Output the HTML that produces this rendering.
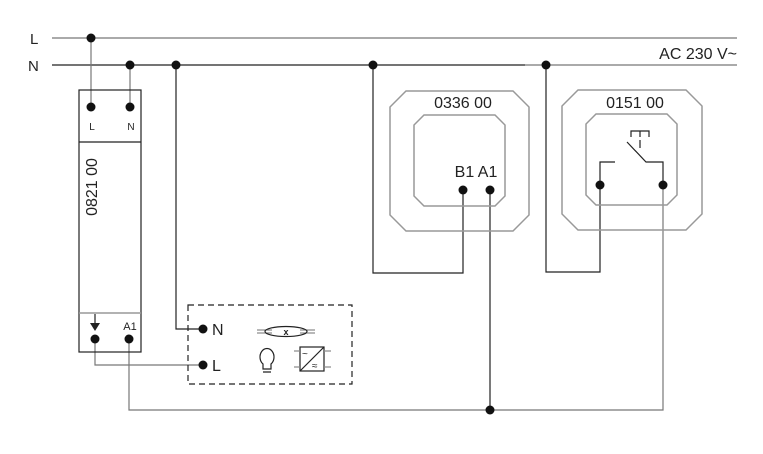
<!DOCTYPE html>
<html><head><style>html,body{margin:0;padding:0;background:#fff}svg{display:block}text{font-family:"Liberation Sans",sans-serif;fill:#222}</style></head>
<body>
<svg width="763" height="454" viewBox="0 0 763 454" xmlns="http://www.w3.org/2000/svg">
<g fill="none" stroke-width="1.2">
<line x1="52" y1="38" x2="737" y2="38" stroke="#777"/>
<line x1="52" y1="65" x2="525" y2="65" stroke="#222"/>
<line x1="525" y1="65" x2="737" y2="65" stroke="#777"/>
<polyline points="91,38 91,107" stroke="#777"/>
<polyline points="130,65 130,107" stroke="#777"/>
<polyline points="176,65 176,329 203,329" stroke="#222"/>
<polyline points="373,65 373,273 463,273 463,190" stroke="#222"/>
<polyline points="546,65 546,272 600,272 600,185" stroke="#222"/>
<polyline points="490,190 490,410" stroke="#222"/>
<polyline points="663,185 663,410 129,410 129,339" stroke="#777"/>
<polyline points="95,339 95,365 203,365" stroke="#777"/>
<rect x="79" y="90" width="62" height="262" stroke="#222"/>
<line x1="79" y1="142" x2="141" y2="142" stroke="#222"/>
<line x1="79" y1="313" x2="141" y2="313" stroke="#999" stroke-width="1.5"/>
<line x1="95" y1="314" x2="95" y2="324" stroke="#222"/>
<rect x="188" y="305" width="164" height="79" stroke="#222" stroke-dasharray="6,4"/>
<polygon points="406,91 513,91 529,107 529,215 513,231 406,231 390,215 390,107" stroke="#999" stroke-width="1.5"/>
<polygon points="424,115 495,115 505,125 505,196 495,206 424,206 414,196 414,125" stroke="#999" stroke-width="1.5"/>
<polygon points="578,90 686,90 702,106 702,214 686,230 578,230 562,214 562,106" stroke="#999" stroke-width="1.5"/>
<polygon points="596,114 667,114 677,124 677,195 667,205 596,205 586,195 586,124" stroke="#999" stroke-width="1.5"/>
<polyline points="600,185 600,162 615,162" stroke="#222"/>
<polyline points="663,185 663,162 646,162 627,142" stroke="#222"/>
<polyline points="631,137 631,131 649,131 649,137" stroke="#222"/>
<line x1="640" y1="131" x2="640" y2="137" stroke="#222"/>
<line x1="640" y1="140" x2="640" y2="148" stroke="#222"/>
<g stroke="#888"><line x1="257" y1="330" x2="272" y2="330"/><line x1="257" y1="333" x2="272" y2="333"/><line x1="300" y1="330" x2="315" y2="330"/><line x1="300" y1="333" x2="315" y2="333"/></g>
<ellipse cx="286" cy="331.5" rx="21" ry="5" stroke="#222"/>
<path d="M263,364 a7,8.5 0 1 1 8,0 l0,5 h-8 z M263,372 h8" stroke="#222"/>
<rect x="300" y="347" width="24" height="24" stroke="#222"/>
<line x1="300" y1="371" x2="324" y2="347" stroke="#222"/>
<g stroke="#888"><line x1="294" y1="351" x2="300" y2="351"/><line x1="294" y1="367" x2="300" y2="367"/><line x1="324" y1="351" x2="331" y2="351"/><line x1="324" y1="367" x2="331" y2="367"/></g>
</g>
<polygon points="90,323 100,323 95,331" fill="#222"/>
<g fill="#111">
<circle cx="91" cy="38" r="4.5"/><circle cx="130" cy="65" r="4.5"/><circle cx="176" cy="65" r="4.5"/><circle cx="373" cy="65" r="4.5"/><circle cx="546" cy="65" r="4.5"/>
<circle cx="91" cy="107" r="4.5"/><circle cx="130" cy="107" r="4.5"/><circle cx="95" cy="339" r="4.5"/><circle cx="129" cy="339" r="4.5"/>
<circle cx="203" cy="329" r="4.5"/><circle cx="203" cy="365" r="4.5"/>
<circle cx="463" cy="190" r="4.5"/><circle cx="490" cy="190" r="4.5"/><circle cx="600" cy="185" r="4.5"/><circle cx="663" cy="185" r="4.5"/><circle cx="490" cy="410" r="4.5"/>
</g>
<text x="30" y="44" font-size="15">L</text>
<text x="28" y="71" font-size="15">N</text>
<text x="737" y="59" font-size="16" text-anchor="end">AC 230 V~</text>
<text x="92" y="130" font-size="10" text-anchor="middle">L</text>
<text x="131" y="130" font-size="10" text-anchor="middle">N</text>
<text x="130" y="330" font-size="11" text-anchor="middle">A1</text>
<text transform="translate(97,187) rotate(-90)" font-size="16" text-anchor="middle">0821 00</text>
<text x="212" y="335" font-size="16">N</text>
<text x="212" y="371" font-size="16">L</text>
<text x="463" y="108" font-size="16" text-anchor="middle">0336 00</text>
<text x="476" y="177" font-size="16" text-anchor="middle">B1 A1</text>
<text x="635" y="108" font-size="16" text-anchor="middle">0151 00</text>
<text x="286" y="335" font-size="9" text-anchor="middle" font-weight="bold">x</text>
<text x="302" y="357" font-size="10">~</text>
<text x="312" y="369" font-size="10">≈</text>
</svg>
</body></html>
